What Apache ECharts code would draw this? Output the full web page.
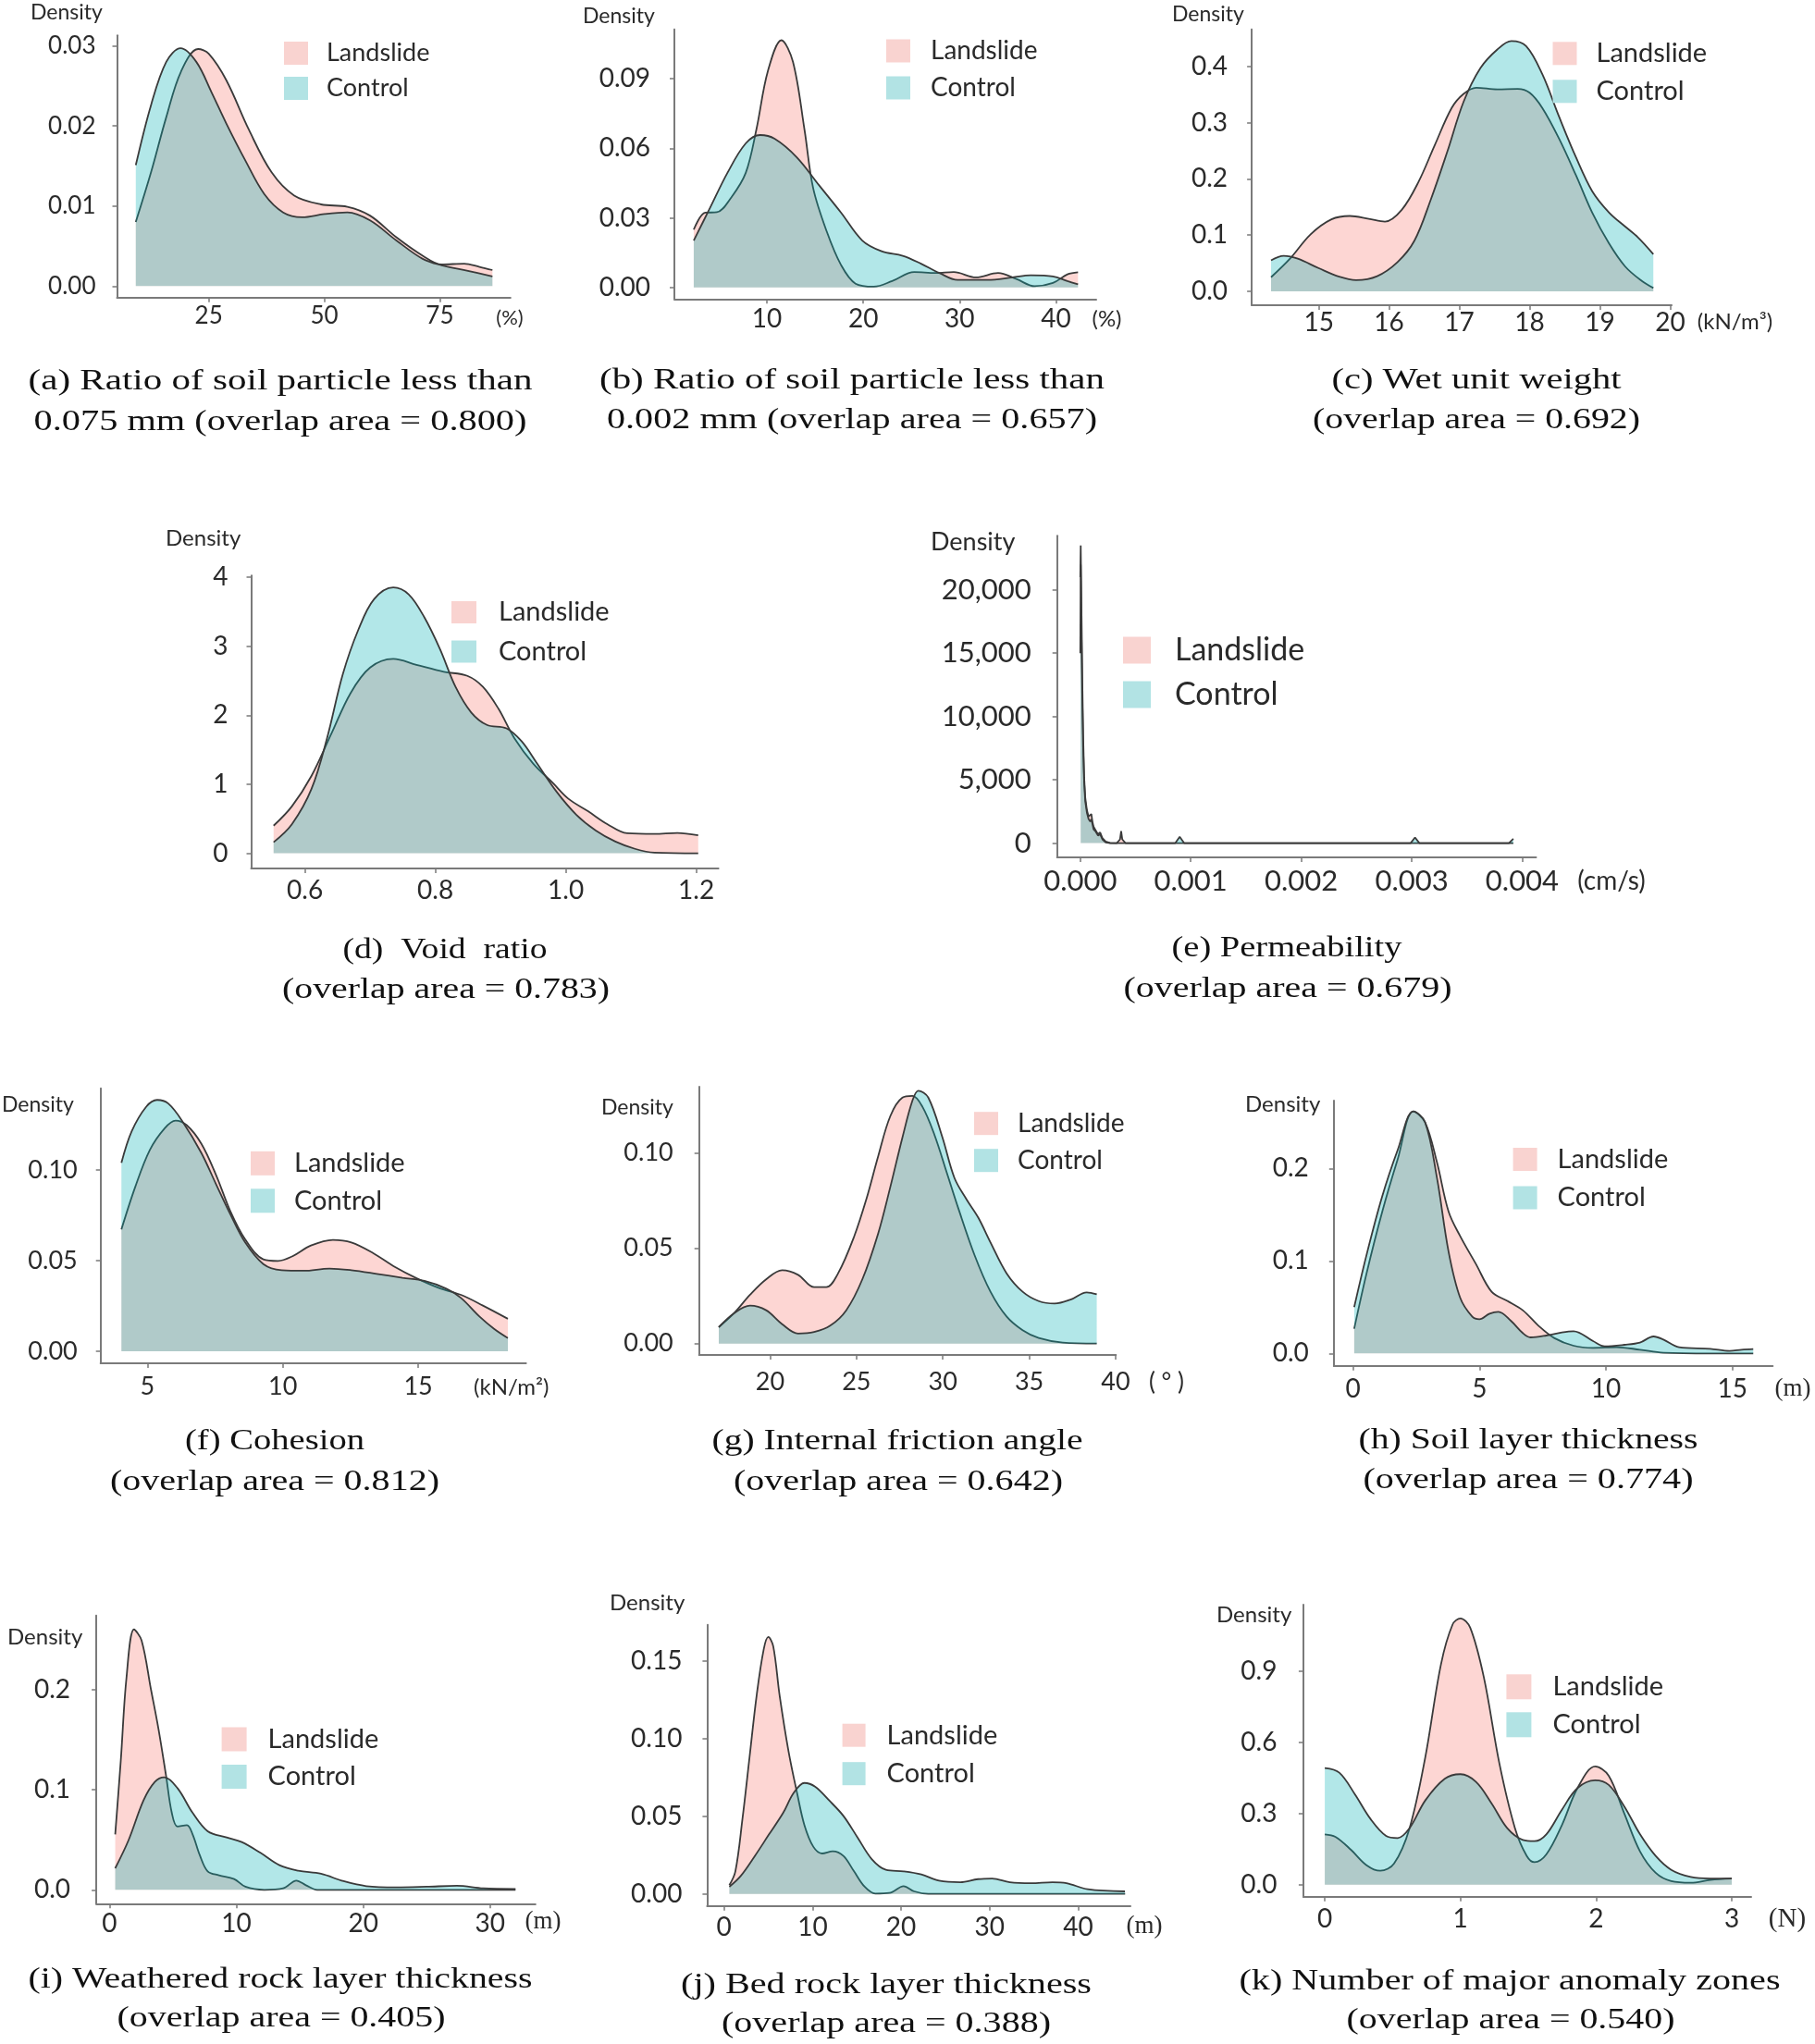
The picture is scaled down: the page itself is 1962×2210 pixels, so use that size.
<!DOCTYPE html>
<html><head><meta charset="utf-8">
<script src="https://cdn.jsdelivr.net/npm/echarts@6/dist/echarts.min.js"></script>
<style>html,body{margin:0;padding:0;background:#fff}#c{width:1962px;height:2210px}</style>
</head><body><div id="c"></div>
<script>
// ---------------- DATA ----------------
const aXTicks = [25, 50, 75];
const aYTicks = [0, 0.01, 0.02, 0.03];
const aLandslide = [[9.2,0.0080],[12.5,0.0142],[15.8,0.0211],[19.0,0.0268],[22.7,0.0296],[25.0,0.0290],[28.8,0.0257],[33.7,0.0195],[38.6,0.0142],[43.5,0.0113],[49.3,0.0102],[55.0,0.0099],[59.9,0.0088],[65.6,0.0061],[71.3,0.0038],[75.4,0.0027],[80.3,0.0028],[83.6,0.0024],[86.4,0.0020]];
const aControl = [[9.2,0.0151],[12.5,0.0226],[15.8,0.0280],[18.9,0.0297],[22.3,0.0280],[25.6,0.0242],[28.8,0.0203],[32.9,0.0157],[37.0,0.0115],[41.1,0.0092],[45.2,0.0086],[50.1,0.0090],[55.0,0.0092],[59.9,0.0082],[65.6,0.0057],[71.3,0.0034],[75.4,0.0026],[81.1,0.0019],[86.4,0.0012]];

const bXTicks = [10, 20, 30, 40];
const bYTicks = [0, 0.03, 0.06, 0.09];
const bLandslide = [[2.4,0.0249],[3.6,0.0322],[4.8,0.0324],[6.3,0.0388],[7.8,0.0494],[8.9,0.068],[10.1,0.0933],[11.5,0.1066],[12.7,0.0973],[13.9,0.068],[14.8,0.0428],[16.2,0.0242],[17.7,0.0096],[19.2,0.0016],[21.1,0.0003],[23.0,0.0027],[25.3,0.0066],[27.5,0.0062],[29.4,0.0066],[31.7,0.0043],[34.0,0.0062],[35.9,0.0036],[37.8,0.0005],[39.7,0.0019],[41.2,0.0056],[42.3,0.0065]];
const bControl = [[2.4,0.0202],[4.0,0.0335],[5.9,0.0494],[7.8,0.0621],[9.3,0.0657],[10.8,0.0641],[13.1,0.0561],[15.4,0.0441],[17.7,0.0322],[19.9,0.0202],[21.9,0.0156],[24.1,0.0136],[26.0,0.0102],[27.9,0.0062],[29.8,0.0032],[32.9,0.0032],[35.5,0.0043],[37.4,0.0052],[39.7,0.0047],[41.2,0.0027],[42.3,0.0013]];

const cXTicks = [15, 16, 17, 18, 19, 20];
const cYTicks = [0, 0.1, 0.2, 0.3, 0.4];
const cLandslide = [[14.32,0.025],[14.59,0.058],[14.88,0.101],[15.18,0.128],[15.44,0.134],[15.71,0.129],[15.94,0.124],[16.18,0.145],[16.42,0.195],[16.65,0.260],[16.89,0.326],[17.06,0.351],[17.24,0.362],[17.54,0.359],[17.83,0.360],[18.0,0.353],[18.18,0.326],[18.42,0.271],[18.66,0.206],[18.89,0.140],[19.13,0.085],[19.36,0.044],[19.6,0.018],[19.76,0.006]];
const cControl = [[14.32,0.055],[14.5,0.063],[14.7,0.058],[15.0,0.041],[15.29,0.026],[15.53,0.020],[15.83,0.027],[16.12,0.052],[16.36,0.090],[16.59,0.162],[16.83,0.249],[17.06,0.337],[17.3,0.397],[17.54,0.430],[17.74,0.445],[17.95,0.436],[18.18,0.386],[18.42,0.310],[18.66,0.238],[18.89,0.178],[19.13,0.140],[19.36,0.115],[19.54,0.096],[19.76,0.066]];

const dXTicks = [0.6, 0.8, 1.0, 1.2];
const dYTicks = [0, 1, 2, 3, 4];
const dLandslide = [[0.552,0.40],[0.58,0.68],[0.61,1.12],[0.64,1.72],[0.67,2.32],[0.70,2.69],[0.7355,2.815],[0.771,2.73],[0.813,2.63],[0.849,2.57],[0.873,2.41],[0.897,2.09],[0.921,1.67],[0.95,1.30],[0.98,1.02],[1.004,0.79],[1.034,0.61],[1.064,0.42],[1.094,0.29],[1.136,0.28],[1.171,0.295],[1.203,0.26]];
const dControl = [[0.552,0.16],[0.58,0.42],[0.61,0.93],[0.634,1.67],[0.658,2.59],[0.682,3.24],[0.706,3.68],[0.7355,3.85],[0.759,3.75],[0.783,3.42],[0.807,2.96],[0.831,2.41],[0.855,2.04],[0.879,1.86],[0.909,1.81],[0.9325,1.62],[0.956,1.30],[0.986,0.89],[1.016,0.56],[1.046,0.33],[1.076,0.17],[1.106,0.065],[1.136,0.01],[1.203,0.0]];

const eXTicks = [0, 0.001, 0.002, 0.003, 0.004];
const eYTicks = [0, 5000, 10000, 15000, 20000];
const eLandslide = [[0.0,21000],[0.000004,23500],[0.00001,19000],[0.000018,13000],[0.000026,8500],[0.000035,5200],[0.000045,3600],[0.00006,2600],[0.000075,2100],[0.00009,2000],[0.0001,2300],[0.00011,1700],[0.00012,1300],[0.00014,1000],[0.00016,700],[0.00018,850],[0.0002,400],[0.00023,120],[0.00027,20],[0.00033,0],[0.00036,300],[0.00037,950],[0.00038,300],[0.00041,0],[0.0009,0],[0.003,0],[0.00392,0]];
const eControl = [[0.0,15000],[0.000004,22000],[0.00001,17000],[0.000018,11500],[0.000026,7500],[0.000035,4800],[0.000045,3300],[0.00006,2400],[0.000075,1900],[0.00009,1700],[0.0001,1900],[0.00011,1500],[0.00012,1100],[0.00014,900],[0.00016,600],[0.00018,700],[0.0002,300],[0.00023,60],[0.00027,0],[0.00086,0],[0.0009,500],[0.00094,0],[0.00299,0],[0.00303,450],[0.00307,0],[0.00388,0],[0.00392,350]];

const fXTicks = [5, 10, 15];
const fYTicks = [0, 0.05, 0.10];
const fLandslide = [[4.04,0.0672],[4.55,0.0906],[5.09,0.111],[5.64,0.123],[6.04,0.1272],[6.45,0.1247],[6.99,0.1145],[7.53,0.0974],[8.07,0.077],[8.61,0.0617],[9.28,0.0507],[9.82,0.0498],[10.36,0.0524],[11.04,0.0583],[11.85,0.0614],[12.53,0.060],[13.34,0.0541],[14.15,0.0464],[14.96,0.0401],[15.77,0.0349],[16.58,0.0311],[17.39,0.0252],[18.31,0.0179]];
const fControl = [[4.04,0.1039],[4.42,0.1213],[4.96,0.1349],[5.36,0.1386],[5.77,0.1366],[6.31,0.1264],[6.99,0.1094],[7.53,0.0923],[8.07,0.0753],[8.61,0.060],[9.28,0.0481],[9.96,0.0447],[10.77,0.0444],[11.72,0.0456],[12.53,0.0447],[13.47,0.0427],[14.42,0.0405],[15.23,0.0388],[16.04,0.0345],[16.58,0.0294],[17.26,0.0192],[17.8,0.0124],[18.31,0.0073]];

const gXTicks = [20, 25, 30, 35, 40];
const gYTicks = [0, 0.05, 0.10];
const gLandslide = [[17.03,0.0086],[17.91,0.0159],[18.84,0.0256],[19.77,0.0337],[20.7,0.0385],[21.62,0.0361],[22.55,0.0296],[23.25,0.0296],[23.94,0.0369],[24.87,0.0563],[25.57,0.0757],[26.26,0.0984],[26.96,0.1194],[27.66,0.1291],[28.24,0.130],[28.82,0.1243],[29.51,0.1097],[30.21,0.0903],[30.9,0.0709],[31.83,0.0466],[32.76,0.0272],[33.69,0.0142],[34.62,0.007],[35.55,0.0029],[36.94,0.0005],[38.91,0.0]];
const gControl = [[17.03,0.0086],[17.91,0.0159],[18.84,0.0199],[19.77,0.0175],[20.7,0.0102],[21.62,0.0053],[22.55,0.0061],[23.48,0.0094],[24.41,0.0175],[25.34,0.0337],[26.26,0.0579],[26.96,0.0822],[27.66,0.1081],[28.24,0.1275],[28.58,0.1327],[29.16,0.1291],[29.98,0.1081],[30.67,0.087],[31.37,0.0757],[32.06,0.066],[32.76,0.0531],[33.69,0.0369],[34.62,0.0272],[35.55,0.0223],[36.47,0.021],[37.4,0.0231],[38.33,0.0269],[38.91,0.0259]];

const hXTicks = [0, 5, 10, 15];
const hYTicks = [0, 0.1, 0.2];
const hLandslide = [[0.05,0.0267],[0.54,0.0867],[1.16,0.1533],[1.77,0.21],[2.39,0.2617],[2.85,0.25],[3.32,0.2067],[3.78,0.1533],[4.24,0.1267],[4.86,0.0967],[5.48,0.0667],[6.1,0.0567],[6.71,0.0467],[7.33,0.03],[7.95,0.0167],[8.72,0.0083],[9.49,0.006],[10.42,0.0067],[11.34,0.004],[12.27,0.0007],[14.12,0],[15.82,0]];
const hControl = [[0.05,0.05],[0.54,0.1067],[1.16,0.17],[1.77,0.22],[2.39,0.2617],[2.85,0.25],[3.32,0.19],[3.78,0.11],[4.24,0.06],[4.71,0.04],[5.0,0.037],[5.4,0.043],[5.75,0.045],[6.25,0.035],[6.71,0.022],[7.02,0.0173],[7.64,0.0193],[8.26,0.0227],[8.72,0.024],[9.49,0.0133],[9.95,0.0077],[10.73,0.0093],[11.34,0.0117],[11.88,0.0183],[12.27,0.015],[12.89,0.0067],[14.12,0.005],[14.89,0.0027],[15.36,0.004],[15.82,0.0047]];

const iXTicks = [0, 10, 20, 30];
const iYTicks = [0, 0.1, 0.2];
const iLandslide = [[0.45,0.0554],[0.89,0.129],[1.34,0.212],[1.93,0.26],[2.53,0.249],[3.27,0.2],[3.87,0.16],[4.46,0.1138],[4.91,0.0769],[5.36,0.0631],[6.1,0.0646],[6.55,0.0554],[7.14,0.0338],[7.74,0.0185],[8.63,0.0145],[9.82,0.0108],[10.71,0.0031],[12.2,0],[13.69,0.0015],[14.73,0.0092],[15.48,0.0046],[16.37,0],[20,0],[25,0],[32,0]];
const iControl = [[0.45,0.0215],[1.49,0.0492],[2.68,0.0892],[3.57,0.1077],[4.32,0.1123],[5.36,0.1015],[6.55,0.0769],[7.74,0.0585],[9.23,0.0523],[10.42,0.0477],[11.9,0.0369],[13.39,0.0246],[14.88,0.0191],[16.67,0.016],[18.45,0.0086],[20.24,0.0037],[22.62,0.0025],[25.0,0.0031],[27.38,0.004],[29.46,0.0015],[32.0,0.0009]];

const jXTicks = [0, 10, 20, 30, 40];
const jYTicks = [0, 0.05, 0.10, 0.15];
const jLandslide = [[0.6,0.0056],[1.28,0.0145],[2.08,0.0482],[2.88,0.0879],[3.68,0.1276],[4.48,0.1573],[5.0,0.1653],[5.56,0.1593],[6.28,0.1276],[7.28,0.0919],[8.28,0.0641],[9.08,0.0442],[10.08,0.0304],[11.08,0.026],[12.28,0.0274],[13.48,0.0244],[14.68,0.0145],[15.88,0.0046],[17.08,0.0002],[18.68,0.0006],[20.28,0.005],[21.48,0.0016],[23.08,0],[30,0],[38,0],[45.3,0]];
const jControl = [[0.6,0.0046],[1.88,0.0115],[3.48,0.0244],[5.08,0.0383],[6.68,0.0522],[7.88,0.0651],[9.08,0.0714],[10.28,0.069],[11.88,0.0601],[13.48,0.0502],[15.08,0.0363],[16.68,0.0224],[18.28,0.0155],[20.28,0.0145],[22.28,0.0125],[24.28,0.0085],[26.68,0.0075],[28.68,0.0095],[30.28,0.0099],[32.28,0.0075],[34.68,0.0069],[37.08,0.0075],[38.68,0.0069],[41.08,0.003],[45.28,0.0016]];

const kXTicks = [0, 1, 2, 3];
const kYTicks = [0, 0.3, 0.6, 0.9];
const kLandslide = [[0,0.2123],[0.078,0.2019],[0.193,0.1472],[0.308,0.0821],[0.409,0.0586],[0.51,0.0886],[0.625,0.2384],[0.741,0.538],[0.856,0.9288],[0.942,1.098],[1.0,1.124],[1.072,1.085],[1.172,0.8767],[1.287,0.512],[1.402,0.2384],[1.489,0.1211],[1.546,0.0951],[1.633,0.1277],[1.748,0.2514],[1.863,0.4077],[1.993,0.4989],[2.093,0.4598],[2.208,0.30],[2.324,0.14],[2.439,0.05],[2.554,0.015],[2.698,0.008],[2.842,0.02],[3.0,0.026]];
const kControl = [[0,0.4924],[0.107,0.4729],[0.222,0.3817],[0.337,0.2775],[0.452,0.2058],[0.538,0.1967],[0.625,0.2384],[0.741,0.3556],[0.884,0.4468],[1.0,0.4664],[1.115,0.4338],[1.23,0.3426],[1.345,0.2384],[1.46,0.1889],[1.546,0.1837],[1.633,0.2123],[1.748,0.3165],[1.863,0.4077],[1.993,0.4403],[2.093,0.4208],[2.208,0.33],[2.324,0.2123],[2.439,0.1211],[2.554,0.0625],[2.698,0.0326],[2.842,0.026],[3.0,0.026]];

// ---------------- LAYOUT ----------------
const SANS = 'Lato', SERIF = 'Liberation Serif';
const panels = [
 {L:aLandslide,C:aControl,xt:aXTicks,yt:aYTicks,box:[126.5,38.3,551.8,321.7],xr:[5.14,90.3],yr:[-0.00143,0.0313],xd:0,yd:2,fs:26,ym:23,xm:7,dens:[33,14,23],unit:['(%)',551,344,22,SANS],leg:[307,44,26,25,11,27,15],cap:[['(a) Ratio of soil particle less than',303,413,545],['0.075 mm (overlap area = 0.800)',303,456.5,533]]},
 {L:bLandslide,C:bControl,xt:bXTicks,yt:bYTicks,box:[729,31.7,1185,323.3],xr:[0.39,44.19],yr:[-0.00503,0.1113],xd:0,yd:2,fs:28,ym:26,xm:8,dens:[630,18,23],unit:['(%)',1196.5,345,24,SANS],leg:[958,41,26,25,12,28,17],cap:[['(b) Ratio of soil particle less than',921,411.5,546],['0.002 mm (overlap area = 0.657)',921,455,530]]},
 {L:cLandslide,C:cControl,xt:cXTicks,yt:cYTicks,box:[1353.1,31.7,1807,330],xr:[14.045,20.02],yr:[-0.0247,0.4658],xd:0,yd:1,fs:28,ym:26,xm:5,dens:[1267,16,23],unit:['(kN/m³)',1875.5,348,24,SANS],leg:[1678.5,43.3,26,25,12,29,16],cap:[['(c) Wet unit weight',1596,411.5,313],['(overlap area = 0.692)',1596,455,354]]},
 {L:dLandslide,C:dControl,xt:dXTicks,yt:dYTicks,box:[271.5,622.3,776.6,939.1],xr:[0.5176,1.234],yr:[-0.221,4.023],xd:1,yd:0,fs:28,ym:25,xm:10,dens:[179,582,24],unit:null,leg:[488,647.5,27,24,13.5,29,19],cap:[['(d) Void ratio',481,1027.5,221],['(overlap area = 0.783)',482,1071,354]]},
 {L:eLandslide,C:eControl,xt:eXTicks,yt:eYTicks,box:[1142.7,579.3,1660.5,927],xr:[-0.00021,0.004126],yr:[-1125,24273],xd:3,yd:'comma',fs:31,ym:28,xm:10,dens:[1006,586,27],unit:['(cm/s)',1742,953,28,SANS],leg:[1214,686,30,29,14,34,21],cap:[['(e) Permeability',1391,1026,249],['(overlap area = 0.679)',1392,1069.5,355]],sharp:true},
 {L:fLandslide,C:fControl,xt:fXTicks,yt:fYTicks,box:[108.7,1176.7,568.6,1474],xr:[3.27,18.98],yr:[-0.00663,0.145],xd:0,yd:2,fs:27,ym:25,xm:12,dens:[2,1195,23],unit:['(kN/m²)',552.7,1500,24,SANS],leg:[271,1243.3,26,26,11.5,29,16],cap:[['(f) Cohesion',297,1559,194],['(overlap area = 0.812)',297,1602.5,356]]},
 {L:gLandslide,C:gControl,xt:gXTicks,yt:gYTicks,box:[755.7,1175,1206.3,1465],xr:[15.89,40.02],yr:[-0.00597,0.1348],xd:0,yd:2,fs:27,ym:28,xm:16,dens:[650,1198,23],unit:['( ° )',1261,1495,26,SANS],leg:[1053,1200.7,26,25,12,28,16],cap:[['(g) Internal friction angle',970,1559,401],['(overlap area = 0.642)',971,1602.5,356]]},
 {L:hLandslide,C:hControl,xt:hXTicks,yt:hYTicks,box:[1441.8,1190,1916.3,1476.7],xr:[-0.757,16.59],yr:[-0.0134,0.2733],xd:0,yd:1,fs:28,ym:27,xm:11,dens:[1346,1194,24],unit:['(m)',1938,1502,27,SERIF],leg:[1635.6,1239,26,25,12.5,29,17],cap:[['(h) Soil layer thickness',1652,1557.5,367],['(overlap area = 0.774)',1652,1601,357]]},
 {L:iLandslide,C:iControl,xt:iXTicks,yt:iYTicks,box:[104.1,1746.7,578.8,2058.3],xr:[-1.04,33.57],yr:[-0.01385,0.2739],xd:0,yd:1,fs:28,ym:28,xm:8,dens:[8,1770,24],unit:['(m)',587,2078,27,SERIF],leg:[239.6,1866,27,26,11.5,29,18],cap:[['(i) Weathered rock layer thickness',303,2141,545],['(overlap area = 0.405)',304,2183,355]]},
 {L:jLandslide,C:jControl,xt:jXTicks,yt:jYTicks,box:[764.4,1756.7,1222,2060.7],xr:[-1.91,45.9],yr:[-0.00774,0.1732],xd:0,yd:2,fs:28,ym:27,xm:9,dens:[659,1733,24],unit:['(m)',1237,2083,27,SERIF],leg:[910.6,1861.7,25,25,12.5,29,18],cap:[['(j) Bed rock layer thickness',958,2146.5,444],['(overlap area = 0.388)',958,2189,356]]},
 {L:kLandslide,C:kControl,xt:kXTicks,yt:kYTicks,box:[1408.9,1735,1893,2050.7],xr:[-0.158,3.143],yr:[-0.0508,1.182],xd:0,yd:1,fs:28,ym:28.5,xm:10,dens:[1315,1746,24],unit:['(N)',1932,2075,29,SERIF],leg:[1628.4,1809.3,27,27,12,29,18],cap:[['(k) Number of major anomaly zones',1632,2142.5,585],['(overlap area = 0.540)',1633,2184.5,355]]}
];

// ---------------- BUILD ----------------
const AX = '#7a7a7a', TXT = '#2a2a2a', OUT = '#3a3a3a';
const CAP_FS = 31, CAP_SX = 1.27;
function fmt(d){
  if (d === 'comma') return v => String(Math.round(v)).replace(/\B(?=(\d{3})+(?!\d))/g, ',');
  return v => Number(v).toFixed(d);
}
const mctx = document.createElement('canvas').getContext('2d');
function txt(x, y, text, fs, family, align, color, sx){
  return {type:'text', x:x, y:y, silent:true, z:100, scaleX: sx || 1, scaleY: 1,
    style:{text:text, fontSize:fs, fontFamily:family, fill:color||TXT,
      align:align||'center', verticalAlign:'middle', textAlign:align||'center', textVerticalAlign:'middle'}};
}
function caption(text, x, y, target){
  mctx.font = CAP_FS + 'px "' + SERIF + '"';
  const words = text.split(' ');
  const nat = words.reduce((s,w)=>s+mctx.measureText(w).width, 0);
  const sp = mctx.measureText(' ').width;
  const gaps = words.length - 1;
  let best = 1, bestErr = Infinity;
  for (let n = 1; n <= 6; n++) {
    const s = target / (nat + gaps * n * sp);
    const err = Math.abs(s - CAP_SX);
    if (err < bestErr) { bestErr = err; best = n; }
  }
  const w = nat + gaps * best * sp;
  return txt(x, y, words.join(' '.repeat(best)), CAP_FS, SERIF, 'center', '#111', target / w);
}

const grid=[], xAxis=[], yAxis=[], series=[], legend=[], graphic=[];
panels.forEach((p,i)=>{
  const [l,t,r,b] = p.box;
  grid.push({left:l, top:t, width:r-l, height:b-t, containLabel:false, outerBoundsMode:'none'});
  const axLine = {show:true, onZero:false, lineStyle:{color:AX, width:2}};
  xAxis.push({type:'value', gridIndex:i, min:p.xr[0], max:p.xr[1],
    axisLine:axLine, splitLine:{show:false},
    axisTick:{show:true, customValues:p.xt, length:5, lineStyle:{color:AX, width:1.5}},
    axisLabel:{show:true, customValues:p.xt, formatter:fmt(p.xd), fontSize:p.fs, fontFamily:SANS, color:TXT, margin:p.xm}});
  yAxis.push({type:'value', gridIndex:i, min:p.yr[0], max:p.yr[1],
    axisLine:axLine, splitLine:{show:false},
    axisTick:{show:true, customValues:p.yt, length:5, lineStyle:{color:AX, width:1.5}},
    axisLabel:{show:true, customValues:p.yt, formatter:fmt(p.yd), fontSize:p.fs, fontFamily:SANS, color:TXT, margin:p.ym}});
  const common = {type:'line', xAxisIndex:i, yAxisIndex:i, symbol:'none', showSymbol:false,
    smooth: p.sharp ? false : 0.35, animation:false, emphasis:{disabled:true},
    lineStyle:{color:OUT, width:1.8}};
  series.push(Object.assign({}, common, {name:'Landslide', data:p.L, z:2,
    itemStyle:{color:'#F9D3D0'}, areaStyle:{color:'#F8766D', opacity:0.3}}));
  series.push(Object.assign({}, common, {name:'Control', data:p.C, z:3,
    itemStyle:{color:'#B2E3E4'}, areaStyle:{color:'#00AEB4', opacity:0.3}}));
  const [ll,lt,iw,ih,ig,lfs,lp] = p.leg;
  legend.push({orient:'vertical', left:ll, top:lt, padding:0, itemWidth:iw, itemHeight:ih, itemGap:ig,
    icon:'rect', selectedMode:false,
    textStyle:{fontFamily:SANS, fontSize:lfs, color:TXT, lineHeight:ih, padding:[0,0,0,lp]},
    data:[{name:'Landslide', itemStyle:{color:'#F9D3D0', borderWidth:0}},
          {name:'Control', itemStyle:{color:'#B2E3E4', borderWidth:0}}]});
  graphic.push(txt(p.dens[0], p.dens[1], 'Density', p.dens[2], SANS, 'left'));
  if (p.unit) graphic.push(txt(p.unit[1], p.unit[2], p.unit[0], p.unit[3], p.unit[4], 'center'));
  p.cap.forEach(c => graphic.push(caption(c[0], c[1], c[2], c[3])));
});

const chart = echarts.init(document.getElementById('c'), null, {renderer:'canvas', width:1962, height:2210});
chart.setOption({backgroundColor:'#ffffff', animation:false, grid, xAxis, yAxis, series, legend, graphic});
</script></body></html>
